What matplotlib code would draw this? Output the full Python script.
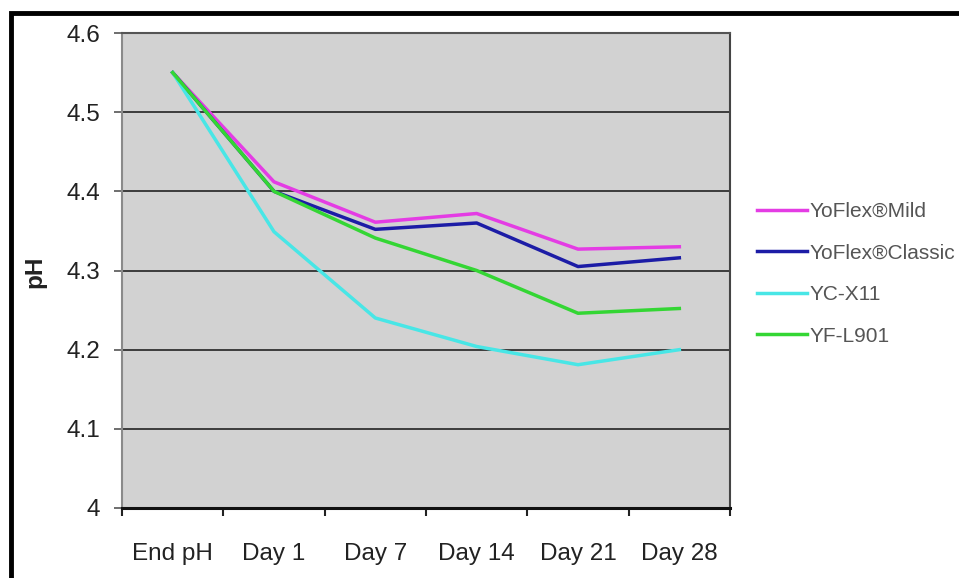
import numpy as np
import matplotlib
matplotlib.use("Agg")
import matplotlib.pyplot as plt
from matplotlib.patches import Rectangle

plt.rcParams['font.family'] = ['Liberation Sans', 'DejaVu Sans']

# data
categories = ["End pH", "Day 1", "Day 7", "Day 14", "Day 21", "Day 28"]
series_names = ["YoFlex\u00aeMild", "YoFlex\u00aeClassic", "YC-X11", "YF-L901"]
mild = [4.55, 4.412, 4.361, 4.372, 4.327, 4.330]
classic = [4.55, 4.400, 4.352, 4.360, 4.305, 4.316]
ycx11 = [4.55, 4.349, 4.240, 4.204, 4.181, 4.200]
yfl901 = [4.55, 4.400, 4.341, 4.300, 4.246, 4.252]
colors = ["#e43ce4", "#1c1ca6", "#48e6e6", "#34d634"]
yticks = [4.0, 4.1, 4.2, 4.3, 4.4, 4.5, 4.6]

fig = plt.figure(figsize=(9.59, 5.78), dpi=100)
ax = fig.add_axes([122/959, 1 - 508/578, 608/959, 475/578])
ax.set_facecolor("#d2d2d2")

x = np.arange(len(categories))
for vals, name, c in zip([mild, classic, ycx11, yfl901], series_names, colors):
    ax.plot(x, vals, color=c, lw=2.5, label=name, solid_joinstyle="round")

ax.set_xlim(-0.5, len(categories) - 0.5)
ax.set_ylim(yticks[0], yticks[-1])
ax.set_yticks(yticks)
ax.set_yticklabels([f"{v:g}" for v in yticks])
ax.yaxis.grid(True, color="#3c3c3c", lw=1.4)
ax.set_axisbelow(True)

# ticks at category boundaries, labels at centres
ax.set_xticks(np.arange(-0.5, len(categories)))
ax.set_xticklabels([])
ax.set_xticks(x, minor=True)
ax.set_xticklabels(categories, minor=True)
ax.tick_params(axis="x", which="major", length=6, width=1.5, color="#222")
ax.tick_params(axis="x", which="minor", length=0, pad=25, labelsize=17.5, labelcolor="#222")
ax.tick_params(axis="y", length=6, width=1.2, color="#555", pad=10, labelsize=17.5, labelcolor="#222")

for side, col, w in [("left", "#8a8a8a", 1.5), ("top", "#555", 1.5),
                     ("right", "#444", 1.5), ("bottom", "#111", 2.2)]:
    ax.spines[side].set_color(col)
    ax.spines[side].set_linewidth(w)

fig.text(35/959, 1 - 272/578, "pH", rotation=90, ha="center", va="center",
         fontsize=17.5, fontweight="bold", color="#222")

ax.legend(loc="upper left", bbox_to_anchor=(757/959, 1 - 202/578),
          bbox_transform=fig.transFigure, frameon=False, fontsize=15,
          labelcolor="#555", handlelength=2.4, handletextpad=0.12,
          labelspacing=1.08, borderpad=0, borderaxespad=0)

# outer black frame (only left and top edges visible)
fig.patches.append(Rectangle((11/959, -0.2), 1.2, 1 - 13/578 + 0.2,
                             transform=fig.transFigure, fill=False,
                             edgecolor="black", lw=3.5))

fig.savefig("out.png", dpi=100)
